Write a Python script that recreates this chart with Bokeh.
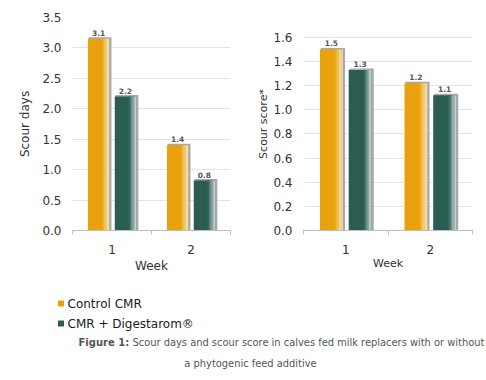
from bokeh.plotting import figure
from bokeh.layouts import column, row
from bokeh.models import FixedTicker, Range1d, ColumnDataSource, PrintfTickFormatter
from bokeh.core.properties import value
from bokeh.embed import file_html
from bokeh.resources import INLINE

# ---------------- data ----------------
weeks = [1, 2]
week_labels = ["1", "2"]
series_names = ["Control CMR", "CMR + Digestarom®"]

scour_days_control = [3.15, 1.40]
scour_days_digest = [2.20, 0.82]
scour_days_control_lbl = ["3.1", "1.4"]
scour_days_digest_lbl = ["2.2", "0.8"]

scour_score_control = [1.50, 1.22]
scour_score_digest = [1.33, 1.12]
scour_score_control_lbl = ["1.5", "1.2"]
scour_score_digest_lbl = ["1.3", "1.1"]

left_ticks = [0.0, 0.5, 1.0, 1.5, 2.0, 2.5, 3.0, 3.5]
right_ticks = [0.0, 0.2, 0.4, 0.6, 0.8, 1.0, 1.2, 1.4, 1.6]

caption_bold = "Figure 1:"
caption_rest = "Scour days and scour score in calves fed milk replacers with or without"
caption_line2 = "a phytogenic feed additive"

# ---------------- styles ----------------
FONT = "DejaVu Sans"
ORANGE = "#E9A20E"
GREEN = "#2A5C51"
ORANGE_GRAD = ["#EBA918", "#EEB636", "#F1C55C", "#F3D283", "#F1DBA9", "#E4DCC8"]
GREEN_GRAD = ["#34655A", "#4C776E", "#6E928B", "#94AEAA", "#B6C7C5", "#C9D3D3"]
SHADOW = "#A9A9A9"
TEXT = "#333333"

OFFSET = 0.17
BAR_W = 0.27

# both frames share the same top/bottom (Bokeh aligns them in a row);
# the right chart's top tick sits lower, so its range extends above it
FRAME_TOP, FRAME_BOTTOM = 17, 231
RIGHT_TOP_TICK_Y = 37


def make_chart(width, height, borders, ymax, ticks, ylabel, ylabel_size,
               ylabel_standoff, week_size, week_standoff,
               ctrl, dig, ctrl_lbl, dig_lbl):
    bl, br, bt, bb = borders
    p = figure(width=width, height=height, output_backend="svg",
               toolbar_location=None, title_location=None,
               x_range=Range1d(0.5, 2.5),
               y_range=Range1d(0, ymax), min_border_left=bl,
               min_border_right=br, min_border_top=bt, min_border_bottom=bb)
    p.outline_line_color = None
    p.background_fill_color = "white"
    p.border_fill_color = "white"
    p.xgrid.grid_line_color = None
    p.ygrid.grid_line_color = "#E3E3E3"
    p.ygrid.ticker = FixedTicker(ticks=ticks)

    fw = width - bl - br
    fh = height - bt - bb
    px_x = 2.0 / fw          # data units per pixel (x)
    px_y = ymax / fh         # data units per pixel (y)

    for vals, lbls, off, base, grad in (
            (ctrl, ctrl_lbl, -OFFSET, ORANGE, ORANGE_GRAD),
            (dig, dig_lbl, OFFSET, GREEN, GREEN_GRAD)):
        xs = [w + off for w in weeks]
        # shadow / frame
        p.vbar(x=[x + 1.5 * px_x for x in xs], top=[v + 1.5 * px_y for v in vals],
               width=BAR_W + 1.5 * px_x, fill_color=SHADOW, line_color=None)
        p.vbar(x=xs, top=vals, width=BAR_W, fill_color=base, line_color=None)
        n = len(grad)
        gw = BAR_W * 0.36 / n
        for i, c in enumerate(grad):
            cx = [x + BAR_W / 2 - BAR_W * 0.36 + gw * (i + 0.5) for x in xs]
            p.vbar(x=cx, top=vals, width=gw * 1.02, fill_color=c, line_color=None)
        src = ColumnDataSource(dict(x=xs, y=vals, t=lbls))
        p.text(x="x", y="y", text="t", source=src, text_font=value(FONT),
               text_font_size="7.5px", text_font_style="bold",
               text_color="#555555", text_align="center",
               text_baseline="bottom", y_offset=-3)

    xa = p.xaxis[0]
    xa.ticker = FixedTicker(ticks=weeks, minor_ticks=[0.5, 1.5, 2.5])
    xa.major_label_overrides = {w: l for w, l in zip(weeks, week_labels)}
    xa.axis_line_color = "#BDBDBD"
    xa.major_tick_line_color = None
    xa.major_tick_out = 0
    xa.major_tick_in = 0
    xa.minor_tick_line_color = "#BDBDBD"
    xa.minor_tick_in = 0
    xa.minor_tick_out = 4
    xa.major_label_text_font = FONT
    xa.major_label_text_font_size = "12px"
    xa.major_label_text_color = TEXT
    xa.major_label_standoff = 10
    xa.axis_label = "Week"
    xa.axis_label_text_font = FONT
    xa.axis_label_text_font_size = week_size
    xa.axis_label_text_font_style = "normal"
    xa.axis_label_text_color = TEXT
    xa.axis_label_standoff = week_standoff

    ya = p.yaxis[0]
    ya.ticker = FixedTicker(ticks=ticks)
    ya.formatter = PrintfTickFormatter(format="%.1f")
    ya.axis_line_color = None
    ya.major_tick_line_color = None
    ya.major_tick_out = 0
    ya.major_tick_in = 0
    ya.minor_tick_line_color = None
    ya.minor_tick_out = 0
    ya.minor_tick_in = 0
    ya.major_label_text_font = FONT
    ya.major_label_text_font_size = "12px"
    ya.major_label_text_color = TEXT
    ya.major_label_standoff = 11
    ya.axis_label = ylabel
    ya.axis_label_text_font = FONT
    ya.axis_label_text_font_size = ylabel_size
    ya.axis_label_text_font_style = "normal"
    ya.axis_label_text_color = TEXT
    ya.axis_label_standoff = ylabel_standoff
    return p


right_ymax = right_ticks[-1] * (FRAME_BOTTOM - FRAME_TOP) / (FRAME_BOTTOM - RIGHT_TOP_TICK_Y)

p1 = make_chart(240, 275, (72, 10, FRAME_TOP, 275 - FRAME_BOTTOM), left_ticks[-1],
                left_ticks, "Scour days", "12px", 7, "12px", 2,
                scour_days_control, scour_days_digest,
                scour_days_control_lbl, scour_days_digest_lbl)
p2 = make_chart(246, 275, (63, 14, FRAME_TOP, 275 - FRAME_BOTTOM), right_ymax,
                right_ticks, "Scour score*", "11px", 0, "11px", 0,
                scour_score_control, scour_score_digest,
                scour_score_control_lbl, scour_score_digest_lbl)

# ---------------- legend + caption ----------------
p3 = figure(width=486, height=105, output_backend="svg", toolbar_location=None,
            title_location=None,
            x_range=Range1d(0, 486), y_range=Range1d(105, 0),
            min_border=0, min_border_left=0, min_border_right=0,
            min_border_top=0, min_border_bottom=0)
p3.axis.visible = False
p3.grid.visible = False
p3.outline_line_color = None

leg_y = [28, 48]
p3.scatter(x=[60.5, 60.5], y=leg_y, marker="square", size=6,
           fill_color=[ORANGE, GREEN], line_color=None)
p3.text(x=[67, 67], y=leg_y, text=series_names, text_font=value(FONT),
        text_font_size="12px", text_color="#1a1a1a", text_baseline="middle")
p3.text(x=[78], y=[67], text=[caption_bold], text_font=value(FONT),
        text_font_size="10px", text_font_style="bold", text_color="#555555",
        text_baseline="middle")
p3.text(x=[132], y=[67], text=[caption_rest], text_font=value(FONT),
        text_font_size="9.9px", text_color="#555555", text_baseline="middle")
p3.text(x=[250], y=[88], text=[caption_line2], text_font=value(FONT),
        text_font_size="9.9px", text_color="#555555", text_baseline="middle",
        text_align="center")

layout = column(row(p1, p2, spacing=0), p3, spacing=0)
open("out.html", "w").write(file_html(layout, INLINE))
